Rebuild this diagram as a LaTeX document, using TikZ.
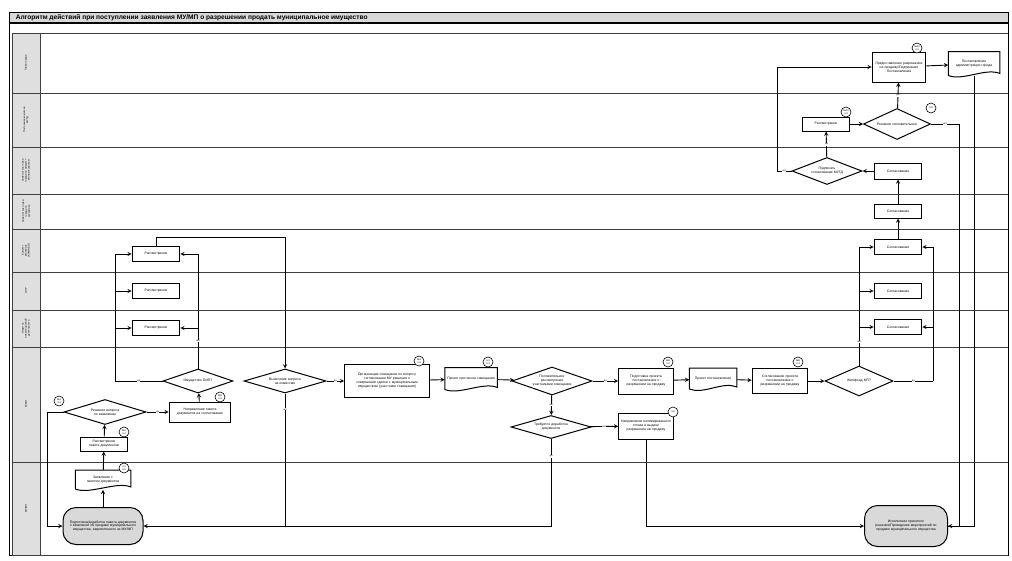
\documentclass[tikz,border=0pt]{standalone}
\usepackage{fontspec}
\setmainfont{Liberation Sans}
\usetikzlibrary{arrows,shapes.geometric}

\newcommand\smalltxt{\fontsize{3.4}{3.9}\selectfont}
\newcommand\tinytxt{\fontsize{2.5}{2.9}\selectfont}
\newcommand\docframe[1]{%
  \draw[line width=1pt] (#1.north west) -- (#1.north east) -- ([yshift=3pt]#1.south east)
    .. controls ([xshift=-14pt,yshift=9pt]#1.south east) and ([xshift=14pt,yshift=-5pt]#1.south west) .. ([yshift=1pt]#1.south west) -- cycle;}

\tikzset{
  lane/.style={line width=.9pt, draw=black!75},
  box/.style={draw, line width=1pt, rectangle, inner sep=.8pt, align=center},
  doc/.style={rectangle, inner sep=.8pt, align=center},
  dec/.style={draw, line width=1pt, diamond, aspect=2.8, inner sep=0pt, align=center},
  term/.style={draw, line width=1pt, rectangle, rounded corners=13pt, fill=gray!30, inner sep=1pt, align=center},
  badge/.style={draw, circle, line width=.6pt, fill=white, inner sep=.2pt, minimum size=10pt, font=\tinytxt, align=center},
  lbl/.style={fill=white, inner sep=.3pt, font=\tinytxt},
  lanelbl/.style={rotate=90, font=\tinytxt, align=center, text width=44pt},
}

\begin{document}
\begin{tikzpicture}[x=1pt,y=-1pt,>=stealth,line width=.9pt,every node/.style={font=\smalltxt}]
  \useasboundingbox (0,0) rectangle (1012,560);

  % frame and title
  \fill[gray!30] (9,12) rectangle (1008,23);
  \draw[line width=.6pt] (9,12) rectangle (1008,555);
  \draw[line width=1.4pt] (9,23) -- (1008,23);
  \node[anchor=west, font=\fontsize{6.6}{8}\selectfont\bfseries] (title) at (12,17.5)
    {Алгоритм действий  при поступлении заявления МУ/МП о разрешении продать муниципальное имущество};

  % lanes
  \fill[gray!25] (12,33) rectangle (40,555);
  \foreach \y in {33,93,147,194,229,272,310,347,462,555}
    \draw[lane] (12,\y) -- (1008,\y);
  \draw[lane] (12,33) -- (12,555);
  \draw[lane] (40,33) -- (40,555);
  \foreach \ya/\yb/\t [count=\i] in {33/93/{Глава города},
      93/147/{Постоянная комиссия\\ МУГД},
      147/194/{Заместитель главы\\ города по имущест-\\ венным вопросам},
      194/229/{Заместитель главы\\ города по\\ экономике},
      229/272/{Комитет\\ финансов\\ (КУМИиЗО)},
      272/310/{ОЭР},
      310/347/{Отдел по\\ инвестиционной\\ деятельности},
      347/462/{КУМИ},
      462/555/{МУ/МП}}
    \node[lanelbl] (lane\i) at (26,{(\ya+\yb)/2}) {\t};

  % Glava
  \node[box, text width=52pt, minimum height=30pt] (pred) at (899,67)
    {Предоставление разрешения на продажу/Подписание Постановления};
  \node[doc, text width=49pt, minimum height=24pt] (post) at (974,64)
    {Постановление администрации города};
  \docframe{post}
  \node[badge] (bpred) at (917,48) {№10\\п.4};

  % komissiya
  \node[box, text width=46pt, minimum height=14pt] (rasm2) at (826,124) {Рассмотрение};
  \node[dec, minimum width=67pt, minimum height=31pt, text width=40pt] (resh) at (897,124)
    {Решение положительное};
  \node[badge] (brasm2) at (846,112) {№10\\п.4};
  \node[badge] (bresh) at (931,108) {п.8};

  % zamestiteli
  \node[dec, minimum width=70pt, minimum height=27pt, text width=36pt] (podp) at (827,171)
    {Подписать согласование МУГД};
  \node[box, text width=46pt, minimum height=16pt] (sogl3) at (898,171) {Согласование};
  \node[box, text width=46pt, minimum height=14pt] (sogl4) at (898,211) {Согласование};
  \node[box, text width=46pt, minimum height=15pt] (sogl5) at (898,247) {Согласование};
  \node[box, text width=46pt, minimum height=15pt] (sogl6) at (898,291) {Согласование};
  \node[box, text width=46pt, minimum height=15pt] (sogl7) at (898,327) {Согласование};
  \node[box, text width=46pt, minimum height=15pt] (rasm5) at (156,254) {Рассмотрение};
  \node[box, text width=46pt, minimum height=15pt] (rasm6) at (156,291) {Рассмотрение};
  \node[box, text width=46pt, minimum height=15pt] (rasm7) at (156,328) {Рассмотрение};

  % KUMI
  \node[dec, minimum width=82pt, minimum height=25pt, text width=44pt] (reshv) at (105,412)
    {Решение вопроса по заявлению};
  \node[box, text width=46pt, minimum height=14pt] (rasmp) at (104,444)
    {Рассмотрение пакета документов};
  \node[box, text width=60pt, minimum height=20pt] (napr) at (200,412)
    {Направление пакета документов на согласование};
  \node[dec, minimum width=70pt, minimum height=24pt, text width=36pt] (oip) at (198,381)
    {Имущество ОИП?};
  \node[dec, minimum width=82pt, minimum height=24pt, text width=44pt] (vyn) at (285,381)
    {Вынесение вопроса на комиссию};
  \node[box, text width=83pt, minimum height=33pt] (org) at (387,381)
    {Организация совещания по вопросу согласования МУ решения о совершении сделки с муниципальным имуществом (участники совещания)};
  \node[doc, text width=50pt, minimum height=22pt] (projprot) at (471,379)
    {Проект протокола совещания};
  \docframe{projprot}
  \node[dec, minimum width=80pt, minimum height=28pt, text width=46pt] (pol) at (552,381)
    {Положительное рассмотрение участниками совещания};
  \node[dec, minimum width=80pt, minimum height=23pt, text width=40pt] (treb) at (551,427)
    {Требуется доработка документов};
  \node[box, text width=53pt, minimum height=26pt] (podgp) at (646,381)
    {Подготовка проекта постановления о разрешении на продажу};
  \node[box, text width=53pt, minimum height=26pt] (otk) at (646,426)
    {Направление мотивированного отказа в выдаче разрешения на продажу};
  \node[doc, text width=45pt, minimum height=21pt] (projpost) at (713,379)
    {Проект постановления};
  \docframe{projpost}
  \node[box, text width=54pt, minimum height=25pt] (soglp) at (780,381)
    {Согласование проекта постановления о разрешении на продажу};
  \node[dec, minimum width=68pt, minimum height=30pt, text width=34pt] (zhil) at (859,381)
    {Жилфонд МП?};
  \node[badge] (breshv) at (59,401) {№2\\п.4};
  \node[badge] (brasmp) at (124,432) {№2\\п.4};
  \node[badge] (bnapr) at (220,397) {№8\\п.4};
  \node[badge] (borg) at (419,361) {№3\\п.4};
  \node[badge] (bprojprot) at (488,362) {п.3\\п.4};
  \node[badge] (bpodgp) at (668,362) {№8\\п.4};
  \node[badge] (botk) at (673,412) {п.8};
  \node[badge] (bsoglp) at (798,362) {№8\\п.4};

  % MU/MP
  \node[doc, text width=53pt, minimum height=19pt] (zayav) at (103,480)
    {Заявление с пакетом документов};
  \docframe{zayav}
  \node[badge] (bzayav) at (124,468) {п.4\\п.5};
  \node[term, text width=70pt, minimum width=80pt, minimum height=37pt] (podg) at (103,526)
    {Подготовка/доработка пакета документов о заявлении об продаже муниципального имущества, закрепленного за МУ/МП};
  \node[term, text width=62pt, minimum width=83pt, minimum height=41pt] (isp) at (906,526)
    {Исполнение принятого решения/Проведение мероприятий по продаже муниципального имущества};

  % connectors
  \draw[->] (podg) -- (zayav);
  \draw[->] (zayav) -- (rasmp);
  \draw[->] (rasmp) -- (reshv);
  \draw[->] (reshv) -- node[lbl]{да} (napr);
  \coordinate (c1) at (47,526);
  \draw[->] (reshv.west) -| (c1) -- (podg);
  \draw[->] (napr) -- (oip);

  \coordinate (oipl) at (115,381);
  \coordinate (lb6) at (115,291);
  \coordinate (lb7) at (115,328);
  \coordinate (rb7) at (198,328);
  \draw (oip.west) -- node[lbl]{да} (oipl);
  \draw[->] (oipl) |- (rasm5);
  \draw[->] (lb6) -- (rasm6);
  \draw[->] (lb7) -- (rasm7);
  \draw[->] (oip.north) |- node[lbl, pos=.12]{нет} (rasm5.east);
  \draw[->] (rb7) -- (rasm7.east);

  \coordinate (t2) at (285,237);
  \draw[->] (rasm5.north) |- (t2) -- (vyn.north);
  \draw[->] (vyn) -- node[lbl]{да} (org);
  \coordinate (bot1) at (285,526);
  \draw (vyn.south) -- node[lbl, pos=.12]{нет} (bot1);
  \draw[->] (treb.south) |- node[lbl, pos=.1]{да} (podg.east);

  \draw[->] (org) -- (projprot);
  \draw[->] (projprot) -- (pol);
  \draw[->] (pol) -- node[lbl]{да} (podgp);
  \draw[->] (pol) -- node[lbl]{нет} (treb);
  \draw[->] (treb) -- node[lbl]{нет} (otk);
  \draw[->] (otk.south) |- (isp.west);
  \draw[->] (podgp) -- (projpost);
  \draw[->] (projpost) -- (soglp);
  \draw[->] (soglp) -- (zhil);

  \coordinate (zl6) at (859,291);
  \coordinate (zl7) at (859,327);
  \coordinate (zr) at (933,381);
  \coordinate (zr7) at (933,327);
  \draw[->] (zhil.north) |- node[lbl, pos=.1]{нет} (sogl5.west);
  \draw[->] (zl6) -- (sogl6);
  \draw[->] (zl7) -- (sogl7);
  \draw (zhil.east) -- node[lbl]{да} (zr);
  \draw[->] (zr) |- (sogl5.east);
  \draw[->] (zr7) -- (sogl7.east);
  \draw[->] (sogl5) -- (sogl4);
  \draw[->] (sogl4) -- (sogl3);
  \draw[->] (sogl3) -- (podp);

  \coordinate (pl) at (777,171);
  \draw[->] (podp) -- node[lbl]{да} (rasm2);
  \draw[->] (podp.west) -- node[lbl]{нет} (pl) |- (pred.west);
  \draw[->] (rasm2) -- (resh);
  \draw[->] (resh) -- node[lbl]{да} (pred);
  \coordinate (rr) at (959,124);
  \draw (resh.east) -- node[lbl]{нет} (rr);
  \draw[->] (rr) |- (isp.east);
  \draw[->] (pred) -- (post);
  \draw (post.south) |- (isp.east);
\end{tikzpicture}
\end{document}
